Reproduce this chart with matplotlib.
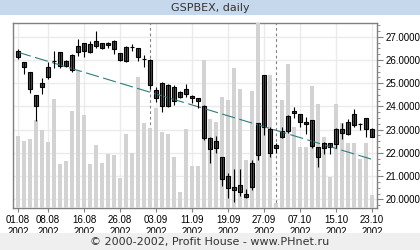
import matplotlib
matplotlib.use("Agg")
import matplotlib.pyplot as plt
from matplotlib.ticker import MultipleLocator, FormatStrFormatter

# trading days (dd.mm), year 2002
dates = ["01.08", "02.08", "05.08", "06.08", "07.08", "08.08", "09.08", "12.08", "13.08", "14.08",
         "15.08", "16.08", "19.08", "20.08", "21.08", "22.08", "23.08", "26.08", "27.08", "28.08",
         "29.08", "30.08",
         "02.09", "03.09", "04.09", "05.09", "06.09", "09.09", "10.09", "11.09", "12.09", "13.09",
         "16.09", "17.09", "18.09", "19.09", "20.09", "23.09", "24.09", "25.09", "26.09", "27.09",
         "30.09",
         "01.10", "02.10", "03.10", "04.10", "07.10", "08.10", "09.10", "10.10", "11.10", "14.10",
         "15.10", "16.10", "17.10", "18.10", "21.10", "22.10", "23.10"]
year = "2002"

opens = [26.40, 25.90, 25.49, 24.02, 24.99, 25.28, 25.97, 26.33, 25.97, 25.55,
         26.33, 26.71, 26.35, 26.81, 26.71, 26.71, 26.81, 26.28, 25.97, 26.57,
         26.50, 26.02, 26.00, 24.70, 24.02, 24.92, 24.23, 24.62, 24.73, 24.45,
         24.35, 24.02, 22.62, 22.51, 21.81, 21.00, 20.40, 20.62, 20.11, 20.51,
         21.91, 25.35, 23.01, 22.19, 22.67, 22.94, 23.70, 23.66, 23.34, 23.41,
         22.24, 22.41, 22.41, 22.38, 23.01, 22.80, 23.66, 23.23, 23.48, 23.03]
highs = [26.45, 25.93, 25.50, 24.50, 25.21, 25.92, 26.38, 26.35, 26.00, 26.25,
         26.89, 26.73, 26.80, 27.24, 26.74, 26.78, 26.86, 26.30, 26.60, 26.68,
         26.52, 26.21, 26.02, 24.85, 25.06, 24.96, 24.92, 24.65, 24.95, 24.49,
         24.37, 24.04, 22.70, 22.72, 21.83, 21.15, 21.29, 21.29, 20.46, 21.69,
         23.30, 25.37, 23.13, 22.44, 23.13, 23.63, 23.99, 23.68, 23.56, 23.43,
         22.26, 22.47, 22.44, 23.05, 23.27, 23.44, 23.87, 23.27, 23.50, 23.07]
lows = [26.05, 25.39, 24.56, 23.38, 24.53, 25.16, 25.64, 25.65, 25.70, 25.46,
        26.18, 26.14, 26.28, 26.50, 26.45, 26.50, 26.25, 25.97, 25.92, 26.40,
        25.97, 25.71, 24.73, 24.20, 23.77, 23.96, 24.06, 24.37, 24.42, 24.13,
        23.92, 22.55, 21.58, 21.98, 20.57, 20.04, 19.90, 20.14, 20.04, 20.40,
        21.69, 22.77, 21.84, 22.00, 22.62, 22.87, 23.48, 23.13, 22.80, 22.19,
        21.38, 21.94, 21.94, 22.19, 22.61, 22.77, 23.13, 22.98, 22.70, 22.68]
closes = [26.11, 25.68, 24.73, 24.47, 24.82, 25.71, 25.97, 25.74, 25.75, 26.21,
          26.60, 26.40, 26.68, 26.60, 26.50, 26.63, 26.45, 26.00, 26.57, 26.57,
          26.11, 26.02, 24.92, 24.35, 24.99, 24.02, 24.85, 24.39, 24.53, 24.35,
          24.22, 22.62, 22.15, 22.19, 20.86, 20.47, 20.51, 20.33, 20.23, 21.55,
          23.27, 23.10, 22.00, 22.34, 22.94, 23.59, 23.81, 23.34, 23.24, 22.29,
          21.81, 22.19, 22.24, 23.01, 22.84, 23.34, 23.18, 23.23, 23.01, 22.70]
volumes = [72, 67, 69, 88, 78, 66, 109, 44, 47, 97,
           138, 93, 44, 63, 45, 54, 53, 30, 74, 55,
           131, 85, 80, 100, 76, 74, 51, 16, 79, 42,
           42, 148, 89, 86, 111, 108, 140, 119, 48, 117,
           200, 110, 133, 5, 108, 144, 81, 61, 61, 122,
           104, 71, 31, 104, 85, 65, 65, 49, 65, 13]

# trend line end values
trend_start = 26.33
trend_end = 21.72

n = len(dates)
xs = list(range(n))
tick_idx = [0] + list(range(5, n, 6))
tick_labels = [dates[i] + "\n" + year for i in tick_idx]
month_starts = [i for i in range(1, n) if dates[i][3:] != dates[i - 1][3:]]

fig = plt.figure(figsize=(4.2, 2.5), dpi=100)
fig.patch.set_facecolor("white")

# header / footer bands
fig.add_artist(plt.Rectangle((0, 1 - 15 / 250), 1, 15 / 250, transform=fig.transFigure,
                             facecolor="#c6d9ec", edgecolor="none"))
fig.add_artist(plt.Rectangle((0, 0), 1, 17 / 250, transform=fig.transFigure,
                             facecolor="#efefef", edgecolor="none"))
fig.text(0.5, 1 - 8 / 250, "GSPBEX, daily", ha="center", va="center",
         fontsize=8, color="#333333", family="DejaVu Sans")
fig.text(0.5, 8.5 / 250, "\u00a9 2000-2002, Profit House - www.PHnet.ru", ha="center",
         va="center", fontsize=8, color="#333333", family="DejaVu Sans")

rect = [13 / 420, 42 / 250, 364 / 420, 185 / 250]
ax = fig.add_axes(rect)
axv = fig.add_axes(rect, sharex=ax)
axc = fig.add_axes(rect, sharex=ax, sharey=ax)
for a in (axv, axc):
    a.patch.set_visible(False)
    a.axis("off")

ax.set_xlim(-0.83, n - 1 + 0.83)
ax.set_ylim(19.626, 27.59)
ax.yaxis.tick_right()
ax.yaxis.set_major_locator(MultipleLocator(1))
ax.yaxis.set_minor_locator(MultipleLocator(0.25))
ax.yaxis.set_major_formatter(FormatStrFormatter("%.4f"))
ax.set_xticks(tick_idx)
ax.set_xticklabels(tick_labels)
ax.grid(True, color="#ebebeb", linewidth=1)
ax.set_axisbelow(True)
for sp in ax.spines.values():
    sp.set_color("#808080")
    sp.set_linewidth(1)
ax.tick_params(axis="x", length=3, color="#808080", labelsize=7, pad=2)
ax.tick_params(axis="y", which="major", length=4, color="#808080", labelsize=7, pad=2)
ax.tick_params(axis="y", which="minor", length=2, color="#808080")
for lab in ax.get_xticklabels() + ax.get_yticklabels():
    lab.set_family("Liberation Sans")

for m in month_starts:
    ax.axvline(m, color="#808080", linestyle=(0, (2.5, 2.5)), linewidth=0.8)

# volume
axv.bar(xs, volumes, width=0.66, color="#d3d3d3", linewidth=0)
axv.set_ylim(0, 185)

# trend line
axc.plot([0, n - 1], [trend_start, trend_end], color="#2e7d7d", linewidth=0.8,
         linestyle=(0, (12, 4)))

# candles
axc.vlines(xs, lows, highs, color="black", linewidth=0.8)
for i in xs:
    o, c = opens[i], closes[i]
    col = "#ff0000" if c < o else "#008040"
    axc.bar(i, abs(c - o), bottom=min(o, c), width=0.72, color=col,
            edgecolor="black", linewidth=0.8)

fig.savefig("out.png", dpi=100)
